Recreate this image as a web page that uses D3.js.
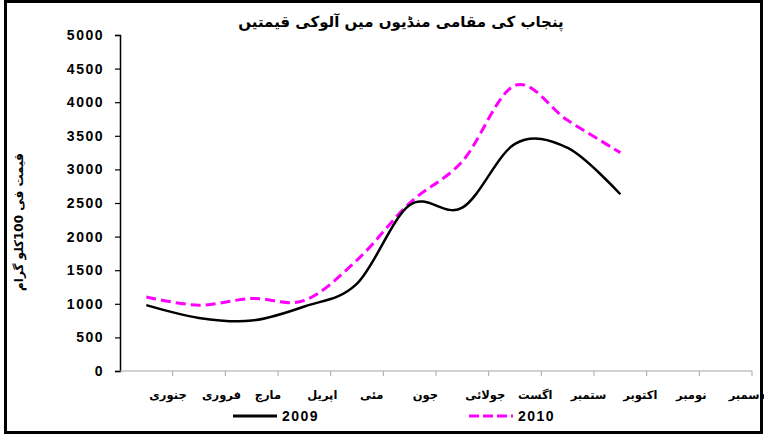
<!DOCTYPE html>
<html>
<head>
<meta charset="utf-8">
<script src="https://cdn.jsdelivr.net/npm/d3@7"></script>
<style>
  html, body { margin: 0; padding: 0; background: #fff; }
  svg { display: block; }
</style>
</head>
<body>
<svg id="chart" width="764" height="436"></svg>
<script>
// Potato prices in Punjab local markets, per 100 kg
const months = ["جنوری", "فروری", "مارچ", "اپریل", "مئی", "جون", "جولائی", "اگست", "ستمبر", "اکتوبر", "نومبر", "دسمبر"];
const prices2009 = [980, 790, 750, 960, 1300, 2470, 2430, 3380, 3320, 2630];
const prices2010 = [1100, 980, 1080, 1050, 1650, 2500, 3120, 4250, 3730, 3250];
const yTicks = [0, 500, 1000, 1500, 2000, 2500, 3000, 3500, 4000, 4500, 5000];
const seriesNames = ["2009", "2010"];
const titleText = "پنجاب کی مقامی منڈیوں میں آلوکی قیمتیں";
const yTitle = "قیمت فی 100کلو گرام";

const svg = d3.select("#chart");
const W = 764, H = 436;
const urduFont = "'DejaVu Sans', sans-serif";
const numFont = "'Liberation Sans', Arial, sans-serif";

// outer frame
svg.append("rect")
  .attr("x", 5.5).attr("y", 1.5)
  .attr("width", W - 8).attr("height", H - 5)
  .attr("fill", "#fff").attr("stroke", "#000").attr("stroke-width", 3);

const x = d3.scaleBand().domain(months).range([120, 752]).padding(0);
const y = d3.scaleLinear().domain([0, 5000]).range([371, 35]);
const cx = m => x(m) + x.bandwidth() / 2;

// title
svg.append("text")
  .attr("x", 401).attr("y", 27)
  .attr("text-anchor", "middle")
  .attr("font-family", urduFont).attr("font-weight", "bold").attr("font-size", 15)
  .text(titleText);

// y axis
const yAxis = d3.axisLeft(y).tickValues(yTicks).tickSize(5).tickPadding(11).tickFormat(d3.format("d"));
const gy = svg.append("g").attr("transform", "translate(120,0)").call(yAxis);
gy.select(".domain").attr("stroke", "#000").attr("stroke-width", 1.5);
gy.selectAll(".tick line").attr("stroke", "#000").attr("stroke-width", 1.2);
gy.selectAll(".tick text")
  .attr("font-family", numFont).attr("font-weight", "bold").attr("font-size", 14)
  .attr("letter-spacing", 1.5).attr("fill", "#000");

// y axis title
svg.append("text")
  .attr("transform", "translate(23,222) rotate(-90)")
  .attr("text-anchor", "middle")
  .attr("font-family", urduFont).attr("font-weight", "bold").attr("font-size", 12)
  .text(yTitle);

// x axis line and category boundary ticks
svg.append("line")
  .attr("x1", 120).attr("x2", 752).attr("y1", y(0)).attr("y2", y(0))
  .attr("stroke", "#a6a6a6").attr("stroke-width", 1.2);
svg.append("g").selectAll("line").data(months).join("line")
  .attr("x1", d => x(d) + x.bandwidth()).attr("x2", d => x(d) + x.bandwidth())
  .attr("y1", y(0)).attr("y2", y(0) + 5)
  .attr("stroke", "#a6a6a6").attr("stroke-width", 1);

// month labels
svg.append("g").selectAll("text").data(months).join("text")
  .attr("x", d => cx(d) + 3).attr("y", 399)
  .attr("text-anchor", "start")
  .attr("font-family", urduFont).attr("font-weight", "bold").attr("font-size", 11.5)
  .text(d => d);

// series lines
const line = d3.line()
  .x((d, i) => cx(months[i]))
  .y(d => y(d))
  .curve(d3.curveCardinal.tension(0));

svg.append("path").datum(prices2010)
  .attr("d", line).attr("fill", "none")
  .attr("stroke", "#ff00ff").attr("stroke-width", 3)
  .attr("stroke-dasharray", "10,5");

svg.append("path").datum(prices2009)
  .attr("d", line).attr("fill", "none")
  .attr("stroke", "#000").attr("stroke-width", 2.5);

// legend
const legend = [
  { name: seriesNames[0], x: 233, color: "#000", dash: null },
  { name: seriesNames[1], x: 469, color: "#ff00ff", dash: "10,4" }
];
const lg = svg.append("g").selectAll("g").data(legend).join("g");
lg.append("line")
  .attr("x1", d => d.x).attr("x2", d => d.x + 44)
  .attr("y1", 416).attr("y2", 416)
  .attr("stroke", d => d.color).attr("stroke-width", 3)
  .attr("stroke-dasharray", d => d.dash);
lg.append("text")
  .attr("x", d => d.x + 49).attr("y", 421)
  .attr("font-family", numFont).attr("font-weight", "bold").attr("font-size", 14)
  .attr("letter-spacing", 1.5)
  .text(d => d.name);
</script>
</body>
</html>
